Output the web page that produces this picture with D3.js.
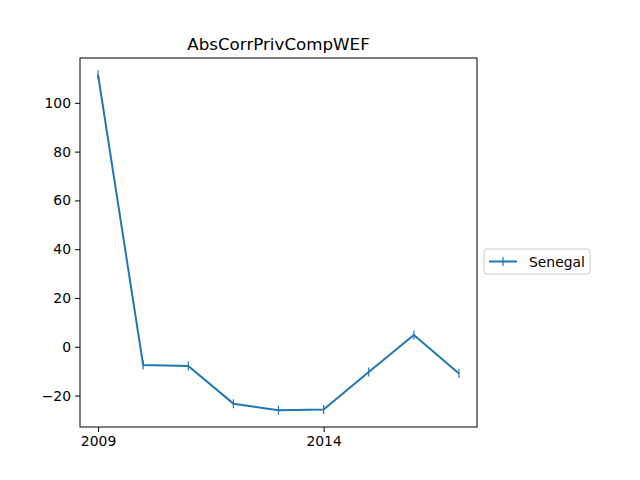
<!DOCTYPE html>
<html>
<head>
<meta charset="utf-8">
<script src="https://cdn.jsdelivr.net/npm/d3@7"></script>
<style>
  body { margin: 0; background: #fff; }
  text { font-family: "DejaVu Sans", sans-serif; }
</style>
</head>
<body>
<div id="chart"></div>
<script>
// Data
const years = [2009, 2010, 2011, 2012, 2013, 2014, 2015, 2016, 2017];
const senegal = [111.5, -7.5, -7.9, -23.3, -26.0, -25.7, -10.3, 4.8, -10.9];
const yTicks = [-20, 0, 20, 40, 60, 80, 100];
const xTicks = [2009, 2014];
const seriesName = "Senegal";
const chartTitle = "AbsCorrPrivCompWEF";

const width = 640, height = 480;
const plotLeft = 80, plotRight = 477, plotTop = 58, plotBottom = 427;
const color = "#1f77b4";

const svg = d3.select("#chart").append("svg")
  .attr("width", width).attr("height", height);

// matplotlib style 5% margins
const xPad = (d3.max(years) - d3.min(years)) * 0.05;
const x = d3.scaleLinear()
  .domain([d3.min(years) - xPad, d3.max(years) + xPad])
  .range([plotLeft, plotRight]);
const [yMin, yMax] = d3.extent(senegal);
const yPad = (yMax - yMin) * 0.05;
const y = d3.scaleLinear()
  .domain([yMin - yPad, yMax + yPad])
  .range([plotBottom, plotTop]);

// axes
const xAxis = d3.axisBottom(x).tickValues(xTicks).tickFormat(d3.format("d")).tickSize(5).tickPadding(4);
const yAxis = d3.axisLeft(y).tickValues(yTicks).tickFormat(d => d < 0 ? "\u2212" + Math.abs(d) : d).tickSize(5).tickPadding(4);

const gx = svg.append("g").attr("transform", `translate(0,${plotBottom})`).call(xAxis);
const gy = svg.append("g").attr("transform", `translate(${plotLeft},0)`).call(yAxis);
[gx, gy].forEach(g => {
  g.select(".domain").remove();
  g.selectAll("text").attr("font-size", 13.9).attr("fill", "#000").style("font-family", "DejaVu Sans");
  g.selectAll("line").attr("stroke", "#000").attr("stroke-width", 1);
});

// line
const line = d3.line().x((d, i) => x(years[i])).y(d => y(d));
svg.append("path")
  .datum(senegal)
  .attr("fill", "none")
  .attr("stroke", color)
  .attr("stroke-width", 2)
  .attr("stroke-linejoin", "round")
  .attr("d", line);

// '|' markers
svg.selectAll(".marker")
  .data(senegal)
  .enter().append("line")
  .attr("class", "marker")
  .attr("x1", (d, i) => x(years[i])).attr("x2", (d, i) => x(years[i]))
  .attr("y1", d => y(d) - 4.5).attr("y2", d => y(d) + 4.5)
  .attr("stroke", color).attr("stroke-width", 1.2);

// frame
svg.append("rect")
  .attr("x", plotLeft).attr("y", plotTop)
  .attr("width", plotRight - plotLeft).attr("height", plotBottom - plotTop)
  .attr("fill", "none").attr("stroke", "#000").attr("stroke-width", 1);

// title
svg.append("text")
  .attr("x", (plotLeft + plotRight) / 2).attr("y", plotTop - 8)
  .attr("text-anchor", "middle")
  .attr("font-size", 16.7)
  .text(chartTitle);

// legend
const lg = svg.append("g").attr("transform", "translate(484,249)");
lg.append("rect")
  .attr("width", 106).attr("height", 25).attr("rx", 3)
  .attr("fill", "#fff").attr("stroke", "#ccc").attr("stroke-width", 1);
lg.append("line")
  .attr("x1", 5).attr("x2", 33).attr("y1", 12.5).attr("y2", 12.5)
  .attr("stroke", color).attr("stroke-width", 2);
lg.append("line")
  .attr("x1", 19).attr("x2", 19).attr("y1", 8).attr("y2", 17)
  .attr("stroke", color).attr("stroke-width", 1.2);
lg.append("text")
  .attr("x", 45).attr("y", 17.5)
  .attr("font-size", 13.9)
  .text(seriesName);
</script>
</body>
</html>
